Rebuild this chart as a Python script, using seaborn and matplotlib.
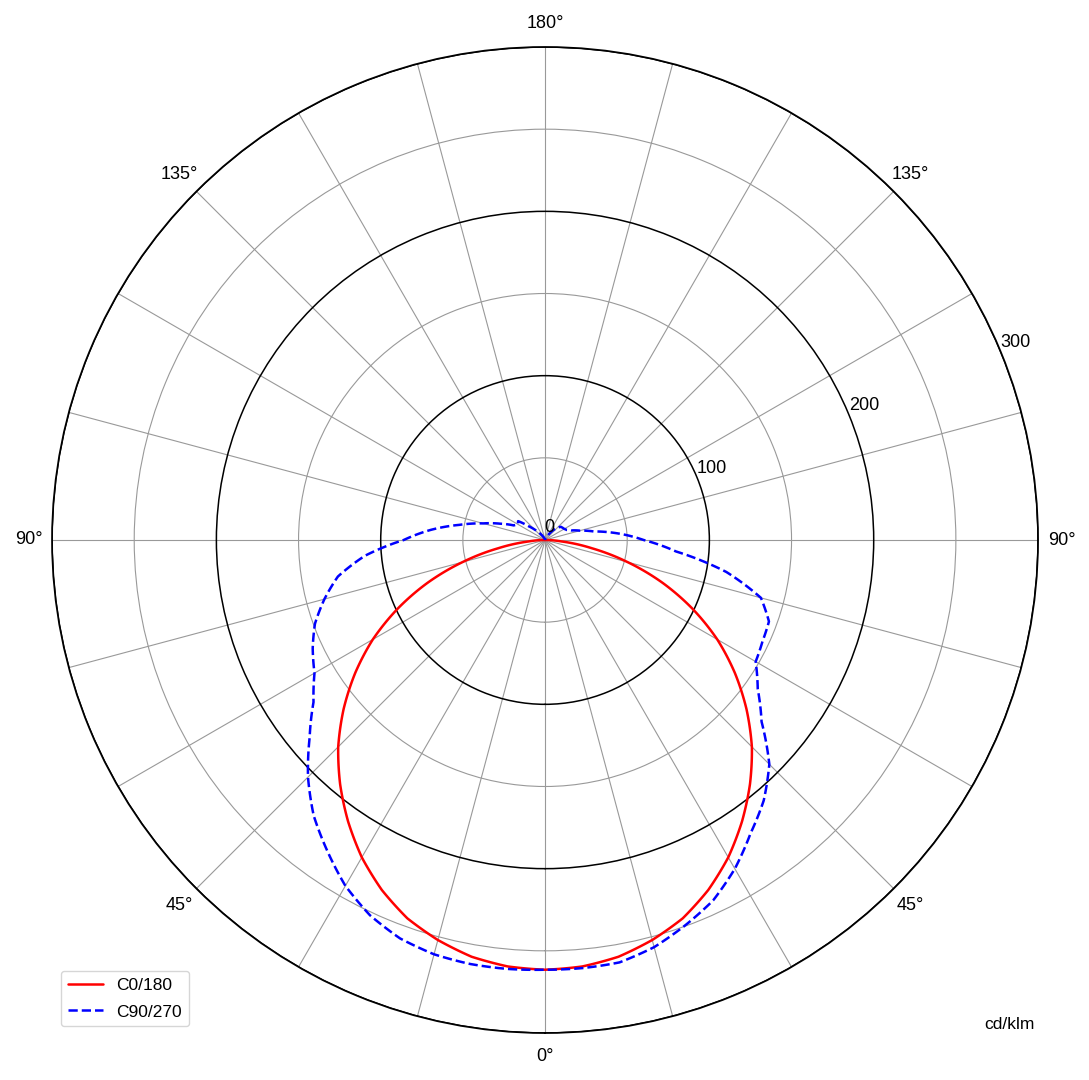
import numpy as np
import pandas as pd
import matplotlib
matplotlib.use('Agg')
import matplotlib.pyplot as plt
import seaborn as sns

# gamma angles (deg) and intensities (cd/klm)
gamma = [0, 5, 10, 15, 20, 25, 30, 35, 40, 45, 50, 55, 60, 65, 70, 75, 80, 85, 90,
         95, 100, 105, 110, 115, 120, 125, 130, 135, 140, 145, 150, 155, 160, 165, 170, 175, 180]

c0 = [261.5, 260.5, 257.5, 252, 245, 235, 223, 209, 194, 178, 160, 141, 121, 99, 76, 52, 29, 10, 0,
      0, 0, 0, 0, 0, 0, 0, 0, 0, 0, 0, 0, 0, 0, 0, 0, 0, 0]
c180 = [261.5, 260.5, 257.5, 252, 245, 235, 223, 209, 194, 178, 160, 141, 121, 99, 76, 52, 29, 10, 0,
        0, 0, 0, 0, 0, 0, 0, 0, 0, 0, 0, 0, 0, 0, 0, 0, 0, 0]
c90 = [261.5, 261.5, 261, 256.5, 249.5, 242, 231, 218, 207, 193, 172, 158, 148, 146, 145, 136, 112, 80, 60,
       45, 30, 22, 17, 14.5, 13.5, 13, 12.5, 10.5, 8, 5, 3, 2, 1, 0.5, 0, 0, 0]
c270 = [261.5, 262, 262, 261, 258, 252, 243, 231, 219, 204, 187, 172, 162, 156, 149, 139, 128, 110, 86,
        70, 53, 39, 29, 21, 19, 20, 13, 9, 6, 4, 2.5, 1.5, 1, 0.5, 0, 0, 0]

theta_ticks = list(range(0, 360, 15))
theta_labels = {0: '0°', 45: '45°', 90: '90°', 135: '135°', 180: '180°',
                225: '135°', 270: '90°', 315: '45°'}
r_ticks = [50, 100, 150, 200, 250, 300]
r_labels = ['', '100', '', '200', '', '300']


def plane(name, left, right):
    # left half drawn with negative angle, right half with positive angle
    g = np.array(gamma, dtype=float)
    th = np.concatenate([-g[::-1], g[1:]])
    r = np.concatenate([np.array(left)[::-1], np.array(right)[1:]])
    return pd.DataFrame({'theta': np.deg2rad(th), 'r': r, 'plane': name})


df = pd.concat([plane('C0/180', c180, c0), plane('C90/270', c270, c90)], ignore_index=True)

sns.set_style('white')
plt.rcParams['font.family'] = ['Liberation Sans', 'DejaVu Sans']
plt.rcParams['text.color'] = 'black'
plt.rcParams['xtick.color'] = 'black'
plt.rcParams['ytick.color'] = 'black'

fig = plt.figure(figsize=(10.89, 10.8), dpi=100)
ax = fig.add_axes([0.0478, 0.0435, 0.9054, 0.913], projection='polar')
ax.set_theta_zero_location('S')
ax.set_theta_direction(1)

sns.lineplot(data=df, x='theta', y='r', hue='plane', style='plane',
             palette={'C0/180': 'red', 'C90/270': 'blue'},
             dashes={'C0/180': '', 'C90/270': (3.7, 1.6)},
             estimator=None, sort=True, linewidth=1.8, ax=ax)

# draw the segments as curves in polar space
for ln in ax.lines:
    ln.get_path()._interpolation_steps = 30

ax.set_ylim(0, 300)
ax.set_yticks(r_ticks)
ax.set_yticklabels(r_labels)
ax.set_rlabel_position(112.5)
ax.set_xticks(np.deg2rad(theta_ticks))
ax.set_xticklabels([theta_labels.get(t, '') for t in theta_ticks])
ax.tick_params(axis='x', labelsize=13, pad=6.5, labelcolor='black')
ax.tick_params(axis='y', labelsize=13, labelcolor='black')
ax.set_xlabel('')
ax.set_ylabel('')

ax.grid(True)
for line in ax.xaxis.get_gridlines():
    line.set_color('#999999')
    line.set_linewidth(0.8)
    line.set_linestyle('-')
for t, line in zip(r_ticks, ax.yaxis.get_gridlines()):
    line.set_linestyle('-')
    if t % 100 == 0:
        line.set_color('black')
        line.set_linewidth(1.1)
    else:
        line.set_color('#999999')
        line.set_linewidth(0.8)
ax.spines['polar'].set_color('black')
ax.spines['polar'].set_linewidth(1.3)

ax.text(np.deg2rad(160), 8, '0', fontsize=13, ha='center', va='center')

leg = ax.legend(loc='lower left', bbox_to_anchor=(0.048, 0.0415), bbox_transform=fig.transFigure,
                fontsize=12.5, title=None, handlelength=2, labelspacing=0.65)
for h in leg.get_lines():
    h.set_linewidth(1.8)
fig.text(0.927, 0.051, 'cd/klm', fontsize=12.5, ha='center', va='center')

fig.savefig('out.png', dpi=100)
